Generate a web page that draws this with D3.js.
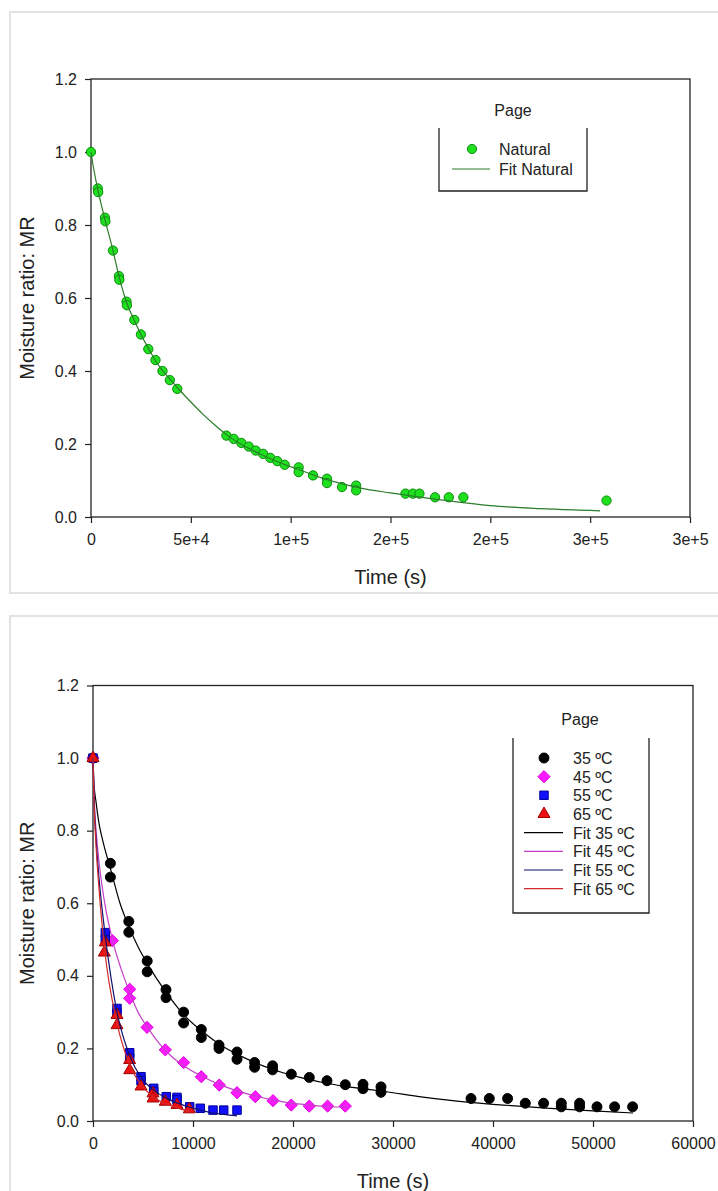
<!DOCTYPE html>
<html>
<head>
<meta charset="utf-8">
<script src="https://cdn.jsdelivr.net/npm/d3@7"></script>
<style>
  html, body { margin: 0; padding: 0; background: #ffffff; }
  svg { display: block; font-family: "Liberation Sans", Arial, sans-serif; }
  .tick-label { font-size: 16px; fill: #222; }
  .axis-title { font-size: 20px; fill: #222; }
  .legend-text { font-size: 16px; fill: #222; }
</style>
</head>
<body>
<svg id="chart"></svg>
<script>
"use strict";

// ---- Top chart: natural drying ----
const naturalTime = [0, 3400, 3600, 7000, 7200, 11000, 14000, 14200, 17800, 18000,
    21700, 25000, 28700, 32300, 35800, 39500, 43200, 67800, 71500, 75300,
    79000, 82500, 86200, 89800, 93300, 97000, 104000, 104000, 111200, 118200,
    118200, 125700, 132800, 132800, 157500, 161200, 164500, 172300, 179200, 186500, 258200];
const naturalMR = [1.0, 0.90, 0.89, 0.82, 0.81, 0.73, 0.66, 0.65, 0.59, 0.58,
    0.54, 0.50, 0.46, 0.43, 0.40, 0.375, 0.351, 0.223, 0.214, 0.203,
    0.193, 0.182, 0.173, 0.162, 0.153, 0.143, 0.136, 0.123, 0.114, 0.105,
    0.093, 0.082, 0.086, 0.073, 0.064, 0.064, 0.064, 0.054, 0.054, 0.054, 0.045];
const naturalFitTime = [0, 1000, 3500, 7000, 11000, 14000, 18000, 22000, 25000, 29000,
    32000, 36000, 40000, 44000, 50000, 56000, 62000, 68000, 75000, 85000,
    95000, 105000, 115000, 125000, 135000, 150000, 175000, 200000, 225000, 250000, 255000];
const naturalFitMR = [1.0, 0.965, 0.895, 0.815, 0.73, 0.66, 0.585, 0.535, 0.50, 0.46,
    0.43, 0.40, 0.375, 0.35, 0.315, 0.282, 0.252, 0.225, 0.20, 0.172,
    0.148, 0.128, 0.108, 0.092, 0.079, 0.066, 0.047, 0.031, 0.023, 0.018, 0.017];
const naturalTicks = [0, 50000, 100000, 150000, 200000, 250000, 300000];
const naturalTickLabels = ["0", "5e+4", "1e+5", "2e+5", "2e+5", "3e+5", "3e+5"];

// ---- Bottom chart: oven drying at 4 temperatures ----
const t35 = [0, 1740, 1740, 3580, 3580, 5420, 5420, 7300, 7300, 9060, 9060, 10830, 10830,
    12600, 12600, 14400, 14400, 16160, 16160, 17960, 17960, 19830, 21630, 23400, 25230,
    27000, 27000, 28800, 28800, 37800, 39630, 41460, 43230, 45060, 46830, 46830,
    48660, 48660, 50400, 52160, 53960];
const mr35 = [1.0, 0.71, 0.672, 0.55, 0.52, 0.441, 0.411, 0.362, 0.34, 0.30, 0.27, 0.252, 0.23,
    0.209, 0.20, 0.19, 0.17, 0.161, 0.148, 0.152, 0.141, 0.129, 0.12, 0.111, 0.10,
    0.101, 0.089, 0.094, 0.079, 0.062, 0.062, 0.062, 0.049, 0.049, 0.049, 0.039,
    0.049, 0.039, 0.039, 0.039, 0.039];
const t45 = [0, 1940, 3670, 3670, 5400, 7230, 9060, 10830, 12630, 14400, 16230, 18000,
    19830, 21630, 23460, 25230];
const mr45 = [1.0, 0.497, 0.363, 0.338, 0.258, 0.196, 0.161, 0.122, 0.099, 0.078, 0.067, 0.056,
    0.044, 0.041, 0.041, 0.041];
const t55 = [0, 1230, 1230, 2400, 2400, 3670, 3670, 4800, 4800, 6070, 6070, 7330, 8400, 8400,
    9670, 10730, 12000, 13070, 14400];
const mr55 = [1.0, 0.519, 0.50, 0.310, 0.297, 0.188, 0.173, 0.122, 0.111, 0.090, 0.081, 0.067,
    0.065, 0.058, 0.039, 0.035, 0.030, 0.030, 0.030];
const t65 = [0, 1130, 1230, 2400, 2400, 3670, 3670, 4800, 6000, 6000, 7230, 8400, 9630];
const mr65 = [1.0, 0.464, 0.492, 0.292, 0.264, 0.168, 0.140, 0.095, 0.076, 0.062, 0.053, 0.044, 0.032];

const fit35Time = [0, 100, 300, 600, 1000, 1800, 2700, 3600, 4500, 5400, 7300, 9000, 11000,
    13000, 15000, 17000, 19000, 21000, 23000, 25000, 27000, 29000, 33000, 37400, 41000,
    45700, 50000, 54000];
const fit35MR = [1.0, 0.93, 0.88, 0.82, 0.77, 0.69, 0.60, 0.535, 0.48, 0.435, 0.355, 0.295, 0.245,
    0.205, 0.176, 0.152, 0.133, 0.118, 0.106, 0.096, 0.089, 0.082, 0.066, 0.052, 0.044,
    0.035, 0.028, 0.022];
const fit45Time = [0, 150, 400, 1000, 1940, 2800, 3670, 4500, 5400, 6300, 7230, 8100, 9060,
    10830, 12630, 14400, 16230, 18000, 19830, 21630, 23460, 25500];
const fit45MR = [1.0, 0.87, 0.77, 0.63, 0.50, 0.42, 0.355, 0.30, 0.26, 0.225, 0.195, 0.172, 0.152,
    0.124, 0.101, 0.083, 0.069, 0.058, 0.049, 0.044, 0.040, 0.038];
const fit55Time = [0, 100, 300, 600, 1230, 2400, 3670, 4800, 6070, 7330, 8400, 9670, 10730,
    12000, 13070, 14400];
const fit55MR = [1.0, 0.89, 0.78, 0.67, 0.51, 0.30, 0.18, 0.12, 0.085, 0.063, 0.05, 0.038, 0.03,
    0.022, 0.018, 0.014];
const fit65Time = [0, 100, 300, 600, 1130, 2400, 3670, 4800, 6000, 7230, 8400, 9700];
const fit65MR = [1.0, 0.88, 0.76, 0.64, 0.48, 0.27, 0.155, 0.10, 0.067, 0.048, 0.036, 0.026];

const ovenTicks = [0, 10000, 20000, 30000, 40000, 50000, 60000];
const ovenTickLabels = ["0", "10000", "20000", "30000", "40000", "50000", "60000"];
const mrTicks = [0, 0.2, 0.4, 0.6, 0.8, 1.0, 1.2];
const mrTickLabels = ["0.0", "0.2", "0.4", "0.6", "0.8", "1.0", "1.2"];

const temperatures = ["35 ºC", "45 ºC", "55 ºC", "65 ºC"];

const W = 718;
const H = 1191;

const svg = d3.select('#chart')
    .attr('width', W)
    .attr('height', H);

// Light grey frames around both graph pages
svg.append('rect')
    .attr('x', 10).attr('y', 12)
    .attr('width', 740).attr('height', 581)
    .attr('fill', 'none')
    .attr('stroke', '#e2e2e2')
    .attr('stroke-width', 2);
svg.append('rect')
    .attr('x', 10).attr('y', 616)
    .attr('width', 740).attr('height', 620)
    .attr('fill', 'none')
    .attr('stroke', '#e2e2e2')
    .attr('stroke-width', 2);

// Draws the box, ticks and titles of one plot, returns the scales
function drawFrame(box, xDomain, xTicks, xLabels) {
    const x = d3.scaleLinear().domain(xDomain).range([box.left, box.right]);
    const y = d3.scaleLinear().domain([0, 1.2]).range([box.bottom, box.top]);

    const xAxis = d3.axisBottom(x)
        .tickValues(xTicks)
        .tickFormat((d, i) => xLabels[i])
        .tickSizeInner(6)
        .tickSizeOuter(0)
        .tickPadding(11);
    const yAxis = d3.axisLeft(y)
        .tickValues(mrTicks)
        .tickFormat((d, i) => mrTickLabels[i])
        .tickSizeInner(6)
        .tickSizeOuter(0)
        .tickPadding(8);

    const gx = svg.append('g')
        .attr('transform', 'translate(0,' + box.bottom + ')')
        .call(xAxis);
    const gy = svg.append('g')
        .attr('transform', 'translate(' + box.left + ',0)')
        .call(yAxis);

    [gx, gy].forEach(g => {
        g.select('.domain').remove();
        g.selectAll('.tick line').attr('stroke', '#222').attr('stroke-width', 1.2);
        g.selectAll('.tick text')
            .attr('class', 'tick-label')
            .attr('font-family', null)
            .attr('font-size', null);
    });

    // plot box
    svg.append('rect')
        .attr('x', box.left).attr('y', box.top)
        .attr('width', box.right - box.left)
        .attr('height', box.bottom - box.top)
        .attr('fill', 'none')
        .attr('stroke', '#222')
        .attr('stroke-width', 1.3);

    svg.append('text')
        .attr('class', 'axis-title')
        .attr('x', (box.left + box.right) / 2)
        .attr('y', box.bottom + 67)
        .attr('text-anchor', 'middle')
        .text('Time (s)');

    svg.append('text')
        .attr('class', 'axis-title')
        .attr('transform', 'translate(34,' + (box.top + box.bottom) / 2 + ') rotate(-90)')
        .attr('text-anchor', 'middle')
        .text('Moisture ratio: MR');

    return { x, y };
}

function drawFit(scales, times, values, color) {
    const pts = times.map((t, i) => [t, values[i]]);
    svg.append('path')
        .datum(pts)
        .attr('fill', 'none')
        .attr('stroke', color)
        .attr('stroke-width', 1.2)
        .attr('d', d3.line()
            .x(d => scales.x(d[0]))
            .y(d => scales.y(d[1]))
            .curve(d3.curveMonotoneX));
}

function drawPoints(scales, times, values, symbol, size, fill, stroke) {
    const pts = times.map((t, i) => [t, values[i]]);
    svg.append('g')
        .selectAll('path')
        .data(pts)
        .enter().append('path')
        .attr('transform', d => 'translate(' + scales.x(d[0]) + ',' + scales.y(d[1]) + ')')
        .attr('d', d3.symbol().type(symbol).size(size))
        .attr('fill', fill)
        .attr('stroke', stroke)
        .attr('stroke-width', 1);
}

// Legend with the bracket shape (sides and bottom, open at the top)
function drawLegendFrame(cx, titleY, left, right, top, bottom) {
    svg.append('text')
        .attr('class', 'legend-text')
        .attr('x', cx)
        .attr('y', titleY)
        .attr('text-anchor', 'middle')
        .text('Page');
    svg.append('path')
        .attr('d', 'M' + left + ',' + top + 'V' + bottom + 'H' + right + 'V' + top)
        .attr('fill', 'none')
        .attr('stroke', '#222')
        .attr('stroke-width', 1.3);
}

// ---------------- Top chart ----------------
const topBox = { left: 91, right: 690, top: 79, bottom: 517 };
const topScales = drawFrame(topBox, [0, 300000], naturalTicks, naturalTickLabels);

const natFill = '#1fe01f';
const natStroke = '#0b8a0b';
const natLine = '#2c7d2c';

drawPoints(topScales, naturalTime, naturalMR, d3.symbolCircle, 68, natFill, natStroke);
drawFit(topScales, naturalFitTime, naturalFitMR, natLine);

drawLegendFrame(513, 116, 439, 587, 128, 191);
svg.append('circle')
    .attr('cx', 472).attr('cy', 149).attr('r', 4.6)
    .attr('fill', natFill).attr('stroke', natStroke);
svg.append('text').attr('class', 'legend-text')
    .attr('x', 499).attr('y', 155).text('Natural');
svg.append('line')
    .attr('x1', 452).attr('x2', 490).attr('y1', 169).attr('y2', 169)
    .attr('stroke', natLine).attr('stroke-width', 1.2);
svg.append('text').attr('class', 'legend-text')
    .attr('x', 499).attr('y', 175).text('Fit Natural');

// ---------------- Bottom chart ----------------
const botBox = { left: 93, right: 693, top: 685.5, bottom: 1121 };
const botScales = drawFrame(botBox, [0, 60000], ovenTicks, ovenTickLabels);

const series = [
    { name: temperatures[0], t: t35, mr: mr35, ft: fit35Time, fmr: fit35MR,
      symbol: d3.symbolCircle, size: 78, fill: '#000000', stroke: '#000000', line: '#000000' },
    { name: temperatures[1], t: t45, mr: mr45, ft: fit45Time, fmr: fit45MR,
      symbol: d3.symbolDiamond2, size: 95, fill: '#ff19ff', stroke: '#e000e0', line: '#c23fc8' },
    { name: temperatures[2], t: t55, mr: mr55, ft: fit55Time, fmr: fit55MR,
      symbol: d3.symbolSquare, size: 72, fill: '#1010ff', stroke: '#00009a', line: '#10106e' },
    { name: temperatures[3], t: t65, mr: mr65, ft: fit65Time, fmr: fit65MR,
      symbol: d3.symbolTriangle, size: 62, fill: '#ee1111', stroke: '#a00000', line: '#d02a2a' }
];

series.forEach(s => drawPoints(botScales, s.t, s.mr, s.symbol, s.size, s.fill, s.stroke));
series.forEach(s => drawFit(botScales, s.ft, s.fmr, s.line));

drawLegendFrame(580, 725, 513, 649, 738, 913);
const rowY = [758, 776.7, 795.3, 814, 832.7, 851.3, 870, 888.7];
series.forEach((s, i) => {
    svg.append('path')
        .attr('transform', 'translate(544,' + rowY[i] + ')')
        .attr('d', d3.symbol().type(s.symbol).size(s.size)())
        .attr('fill', s.fill)
        .attr('stroke', s.stroke);
    svg.append('text').attr('class', 'legend-text')
        .attr('x', 573).attr('y', rowY[i] + 6).text(s.name);
    svg.append('line')
        .attr('x1', 524).attr('x2', 563)
        .attr('y1', rowY[i + 4]).attr('y2', rowY[i + 4])
        .attr('stroke', s.line).attr('stroke-width', 1.2);
    svg.append('text').attr('class', 'legend-text')
        .attr('x', 573).attr('y', rowY[i + 4] + 6).text('Fit ' + s.name);
});
</script>
</body>
</html>
